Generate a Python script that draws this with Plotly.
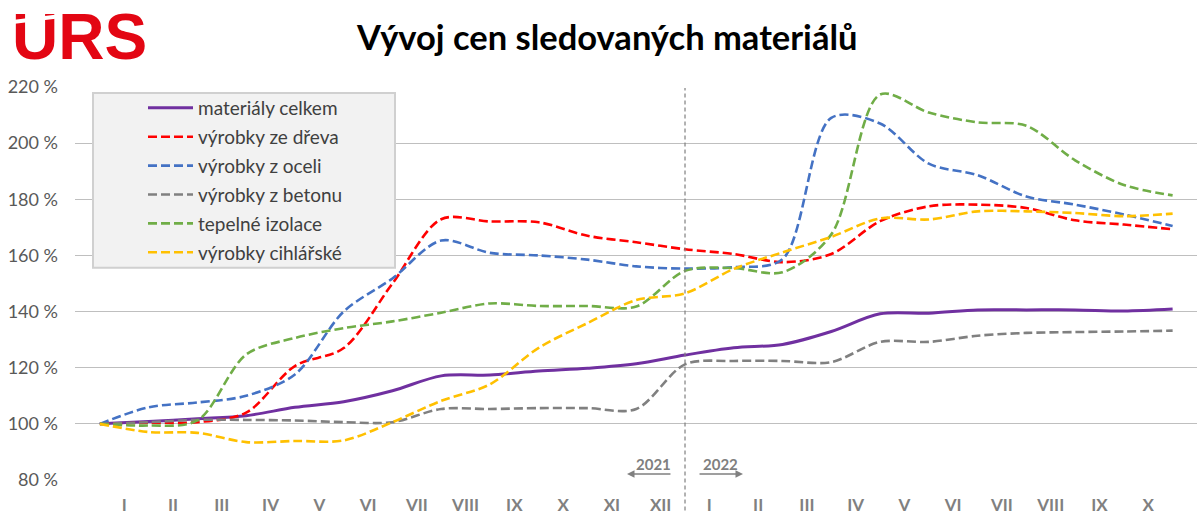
import plotly.graph_objects as go

# ---- data (index points at month boundaries) ----
months_2021 = ["I", "II", "III", "IV", "V", "VI", "VII", "VIII", "IX", "X", "XI", "XII"]
months_2022 = ["I", "II", "III", "IV", "V", "VI", "VII", "VIII", "IX", "X"]
tick_labels = months_2021 + months_2022

materialy_celkem = [100, 100.8, 101.8, 102.9, 105.9, 107.9, 111.8, 117.1, 117.4, 118.8, 119.8, 121.4,
                    124.5, 127.1, 128.3, 132.9, 139.2, 139.4, 140.6, 140.6, 140.6, 140.2, 140.9]
vyrobky_ze_dreva = [100, 100.4, 100.6, 104.0, 120.6, 127.0, 150.0, 172.9, 172.1, 171.8, 167.0, 164.7,
                    162.2, 160.5, 157.6, 160.5, 172.2, 177.5, 178.1, 176.9, 172.5, 171.0, 169.3]
vyrobky_z_oceli = [100, 105.9, 107.6, 110.0, 117.6, 140.0, 151.8, 165.3, 160.9, 160.0, 158.5, 156.1,
                   155.3, 155.8, 158.7, 209.0, 207.0, 192.7, 188.6, 181.0, 178.1, 174.6, 170.5]
vyrobky_z_betonu = [100, 100.6, 101.4, 101.4, 101.2, 100.6, 100.6, 105.3, 105.3, 105.6, 105.6, 105.3,
                    121.2, 122.4, 122.4, 122.0, 129.2, 129.2, 131.4, 132.4, 132.7, 132.9, 133.2]
tepelne_izolace = [100, 99.4, 101.2, 124.7, 130.6, 134.1, 136.5, 139.6, 142.9, 142.0, 142.0, 141.8,
                   154.5, 155.5, 154.0, 167.5, 217.3, 210.9, 207.4, 206.2, 193.9, 185.1, 181.4]
vyrobky_cihlarske = [100, 97.1, 96.8, 93.5, 93.9, 94.1, 100.6, 108.2, 114.1, 127.1, 135.9, 144.1,
                     146.5, 155.2, 161.1, 166.6, 173.2, 172.8, 175.7, 175.7, 175.1, 174.0, 174.9]

series_names = ["materiály celkem", "výrobky ze dřeva", "výrobky z oceli",
                "výrobky z betonu", "tepelné izolace", "výrobky cihlářské"]
series_values = [materialy_celkem, vyrobky_ze_dreva, vyrobky_z_oceli,
                 vyrobky_z_betonu, tepelne_izolace, vyrobky_cihlarske]
series_colors = ["#7030A0", "#FF0000", "#4472C4", "#808080", "#70AD47", "#FFC000"]
series_dash = ["solid", "9px,4px", "9px,4px", "9px,4px", "9px,4px", "9px,4px"]

year_break = 12  # boundary between 2021 and 2022
points = list(range(len(materialy_celkem)))
tick_positions = [k + 0.5 for k in range(len(tick_labels))]

W, H = 1198, 516
ML, MR, MT, MB = 75, 1, 87, 31
PW, PH = W - ML - MR, H - MT - MB
FONT = "Lato"


def px(x):
    return (x - ML) / PW


def py(y):
    return (H - MB - y) / PH


fig = go.Figure()
for i, (name, vals, col, dash) in enumerate(zip(series_names, series_values, series_colors, series_dash)):
    fig.add_trace(go.Scatter(
        x=points, y=vals, name=name, mode="lines",
        line=dict(color=col, width=3 if i == 0 else 2.6, dash=dash, shape="spline", smoothing=0.9),
        legendgroup=f"g{i}", hoverinfo="skip",
    ))

fig.update_layout(
    width=W, height=H,
    margin=dict(l=ML, r=MR, t=MT, b=MB),
    paper_bgcolor="white", plot_bgcolor="white",
    font=dict(family=FONT, color="#595959"),
    showlegend=True,
    legend=dict(
        x=px(143), y=py(89), xanchor="left", yanchor="top",
        bgcolor="rgba(0,0,0,0)", borderwidth=0,
        font=dict(family=FONT, size=19, color="#404040"),
        traceorder="grouped", tracegroupgap=1.2, itemwidth=45,
    ),
    xaxis=dict(
        range=[-0.51, 22.5], tickvals=tick_positions, ticktext=tick_labels,
        showgrid=False, zeroline=False, showline=False, ticks="",
        tickfont=dict(family=FONT, size=17, color="#808080", weight="bold"),
        ticklabelstandoff=13,
    ),
    yaxis=dict(
        range=[80, 220], dtick=20, tick0=80, ticksuffix=" %",
        showgrid=True, gridcolor="#BFBFBF", gridwidth=1.3, zeroline=False, showline=False, ticks="",
        tickfont=dict(family=FONT, size=18, color="#595959"),
        ticklabelstandoff=16,
    ),
)

# legend box
fig.add_shape(type="rect", xref="paper", yref="paper",
              x0=px(93), x1=px(395), y0=py(270), y1=py(93),
              fillcolor="#F2F2F2", line=dict(color="#D0D0D0", width=2), layer="above")

# year separator
fig.add_shape(type="line", xref="x", yref="paper", x0=year_break, x1=year_break,
              y0=py(516), y1=py(88), line=dict(color="#808080", width=1.2, dash="4px,3px"))

# year arrows
fig.add_annotation(x=year_break - 1.19, y=82.1, ax=45, ay=0, xref="x", yref="y",
                   text="", showarrow=True, arrowhead=2, arrowsize=1, arrowwidth=1.5,
                   arrowcolor="#808080")
fig.add_annotation(x=year_break + 1.19, y=82.1, ax=-45, ay=0, xref="x", yref="y",
                   text="", showarrow=True, arrowhead=2, arrowsize=1, arrowwidth=1.5,
                   arrowcolor="#808080")
fig.add_annotation(x=year_break - 0.65, y=85.6, xref="x", yref="y", text="<b>2021</b>",
                   showarrow=False, font=dict(family=FONT, size=15, color="#808080"))
fig.add_annotation(x=year_break + 0.72, y=85.6, xref="x", yref="y", text="<b>2022</b>",
                   showarrow=False, font=dict(family=FONT, size=15, color="#808080"))

# title
fig.add_annotation(x=px(606), y=py(36), xref="paper", yref="paper", xanchor="center", yanchor="middle",
                   text="<b>Vývoj cen sledovaných materiálů</b>", showarrow=False,
                   font=dict(family=FONT, size=34.5, color="#000000"))

# logo
fig.add_annotation(x=px(10), y=py(36), xref="paper", yref="paper", xanchor="left", yanchor="middle",
                   text="<b>URS</b>", showarrow=False,
                   font=dict(family="Liberation Sans", size=64, color="#E30613"))
fig.add_annotation(x=px(33), y=py(19), xref="paper", yref="paper", xanchor="center", yanchor="middle",
                   text=" ", showarrow=False, width=52, height=2.5, bgcolor="white",
                   borderpad=0, textangle=-7, font=dict(size=1))

fig.write_html("out.html", config={"displayModeBar": False})

# remove the browser's default page margin so the figure sits at the window's corner
with open("out.html", encoding="utf-8") as f:
    html = f.read()
html = html.replace("<head>", "<head><style>html,body{margin:0;padding:0;}</style>", 1)
with open("out.html", "w", encoding="utf-8") as f:
    f.write(html)
